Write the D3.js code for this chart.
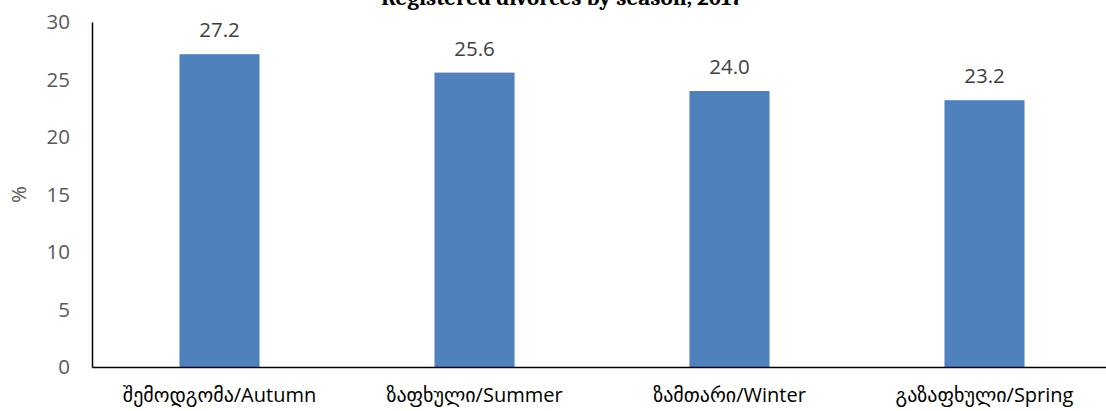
<!DOCTYPE html>
<html>
<head>
<meta charset="utf-8">
<script src="https://cdn.jsdelivr.net/npm/d3@7"></script>
<style>
  body { margin: 0; background: #fff; }
  text { font-family: "Open Sans", "DejaVu Sans", sans-serif; }
</style>
</head>
<body>
<div id="chart"></div>
<script>
const categories = ["შემოდგომა/Autumn", "ზაფხული/Summer", "ზამთარი/Winter", "გაზაფხული/Spring"]
const values = [27.2, 25.6, 24.0, 23.2]
const yTicks = [0, 5, 10, 15, 20, 25, 30]
const title = "Registered divorces by season, 2017"

const width = 1106, height = 411
const margin = { top: 22, right: -6, bottom: 44, left: 92 }

const svg = d3.select("#chart")
    .append("svg")
    .attr("width", width)
    .attr("height", height)

const x = d3.scaleBand()
    .domain(categories)
    .range([margin.left, width - margin.right])
    .paddingInner(0.686)
    .paddingOuter(0.343)

const y = d3.scaleLinear()
    .domain([0, 30])
    .range([height - margin.bottom, margin.top])

// title, cut off at the top like the original
svg.append("text")
    .attr("x", 562)
    .attr("y", 5)
    .attr("text-anchor", "middle")
    .style("font-family", "Cambria, Caladea, 'Liberation Serif', serif")
    .style("font-weight", "bold")
    .style("font-size", "23px")
    .style("fill", "#000")
    .text(title)

svg.append("g")
    .selectAll("rect")
    .data(values)
    .enter().append("rect")
    .attr("x", (d, i) => x(categories[i]))
    .attr("y", d => y(d))
    .attr("width", x.bandwidth())
    .attr("height", d => y(0) - y(d))
    .attr("fill", "#4F81BD")

svg.append("g")
    .selectAll("text")
    .data(values)
    .enter().append("text")
    .attr("x", (d, i) => x(categories[i]) + x.bandwidth() / 2)
    .attr("y", d => y(d) - 17)
    .attr("text-anchor", "middle")
    .style("font-size", "20.5px")
    .style("fill", "#404040")
    .text(d => d.toFixed(1))

// y axis
const yAxis = svg.append("g")
    .attr("transform", `translate(${margin.left},0)`)
    .call(d3.axisLeft(y).tickValues(yTicks).tickSize(0).tickPadding(22))
yAxis.select(".domain").attr("stroke", "#000").attr("stroke-width", 1.5)
yAxis.selectAll("text")
    .style("font-size", "20.5px")
    .style("fill", "#595959")
    .style("font-family", "'Open Sans', sans-serif")

// x axis
const xAxis = svg.append("g")
    .attr("transform", `translate(0,${y(0)})`)
    .call(d3.axisBottom(x).tickSize(0).tickPadding(21))
xAxis.select(".domain").attr("stroke", "#000").attr("stroke-width", 1.5)
xAxis.selectAll("text")
    .style("font-size", "20px")
    .style("fill", "#000")
    .style("font-family", "'Open Sans', 'DejaVu Sans', sans-serif")

svg.append("text")
    .attr("transform", `translate(26,${(y(0) + y(30)) / 2}) rotate(-90)`)
    .attr("text-anchor", "middle")
    .style("font-size", "20.5px")
    .style("fill", "#595959")
    .text("%")
</script>
</body>
</html>
